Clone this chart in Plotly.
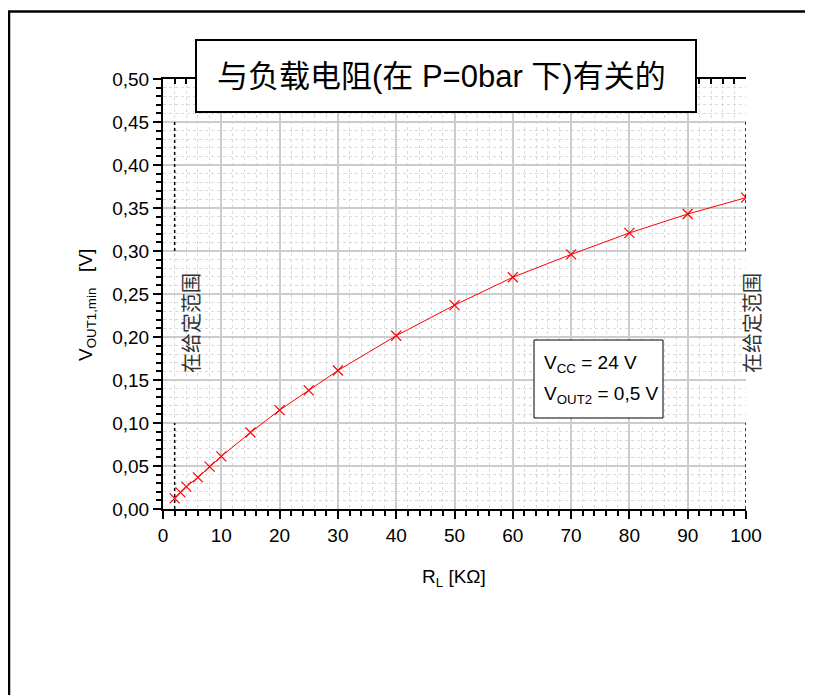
import plotly.graph_objects as go

# ---- data ----
rl_kohm = [2, 3, 4, 6, 8, 10, 15, 20, 25, 30, 40, 50, 60, 70, 80, 90, 100]
vout1_min = [0.0124, 0.0194, 0.026, 0.0368, 0.0492, 0.0612, 0.089, 0.115,
             0.138, 0.161, 0.2015, 0.237, 0.2695, 0.296, 0.321, 0.343, 0.362]
range_bounds = [2, 100]          # x positions of the "given range" markers
range_segments = [[0.0, 0.10], [0.30, 0.45]]
title_text = "与负载电阻(在 P=0bar 下)有关的"
range_text = "在给定范围"
info_lines = ["V<sub>CC</sub> = 24 V", "V<sub>OUT2</sub> = 0,5 V"]

# page offset (browser body margin)
OX, OY = 8, 8
W, H = 813 - 2 * OX, 695 - OY
PL, PR, PT, PB = 163, 746, 79, 509      # absolute plot-area edges in window
L, R, T, B = PL - OX, W - (PR - OX), PT - OY, H - (PB - OY)
PW, PH = PR - PL, PB - PT


def px(x):
    return (x - PL) / PW


def py(y):
    return (PB - y) / PH


LAT = "Liberation Sans, Arial, Noto Sans CJK SC"
CJK = "Noto Sans CJK SC, Liberation Sans"

fig = go.Figure()
fig.add_trace(go.Scatter(
    x=rl_kohm, y=vout1_min, mode="lines+markers",
    line=dict(color="#ff0000", width=1),
    marker=dict(symbol="x-thin", size=10, line=dict(color="#ff0000", width=1.2)),
    showlegend=False, hoverinfo="skip"))
# dummy trace to anchor top axis
fig.add_trace(go.Scatter(x=[None], y=[None], xaxis="x2", yaxis="y",
                         showlegend=False, hoverinfo="skip"))

shapes = []
for xb in range_bounds:
    for y0, y1 in range_segments:
        shapes.append(dict(type="line", xref="x", yref="y", x0=xb, x1=xb, y0=y0, y1=y1,
                           line=dict(color="black", width=1.5, dash="dot"), layer="above"))
# title box
shapes.append(dict(type="rect", xref="paper", yref="paper",
                   x0=px(196), x1=px(696), y0=py(112), y1=py(40),
                   fillcolor="white", line=dict(color="black", width=2), layer="above"))
# info box
shapes.append(dict(type="rect", xref="paper", yref="paper",
                   x0=px(534), x1=px(663), y0=py(418), y1=py(340),
                   fillcolor="white", line=dict(color="black", width=1), layer="above"))
# outer frame (top and left)
shapes.append(dict(type="line", xref="paper", yref="paper",
                   x0=px(8), x1=px(813), y0=py(11.5), y1=py(11.5),
                   line=dict(color="black", width=2.5)))
shapes.append(dict(type="line", xref="paper", yref="paper",
                   x0=px(9), x1=px(9), y0=py(11), y1=py(695),
                   line=dict(color="black", width=2.5)))

annotations = [
    dict(text=title_text, xref="paper", yref="paper", x=px(441), y=py(77),
         xanchor="center", yanchor="middle", showarrow=False,
         font=dict(family=LAT, size=31, color="black")),
    dict(text=range_text, xref="paper", yref="paper", x=px(190), y=py(323),
         xanchor="center", yanchor="middle", showarrow=False, textangle=-90,
         font=dict(family=CJK, size=20, color="#333")),
    dict(text=range_text, xref="paper", yref="paper", x=px(751), y=py(323),
         xanchor="center", yanchor="middle", showarrow=False, textangle=-90,
         font=dict(family=CJK, size=20, color="#333")),
    dict(text=info_lines[0], xref="paper", yref="paper", x=px(542), y=py(364),
         xanchor="left", yanchor="middle", showarrow=False,
         font=dict(family=LAT, size=19, color="black")),
    dict(text=info_lines[1], xref="paper", yref="paper", x=px(542), y=py(395),
         xanchor="left", yanchor="middle", showarrow=False,
         font=dict(family=LAT, size=19, color="black")),
    dict(text="V<sub>OUT1,min</sub>   [V]", xref="paper", yref="paper", x=px(87), y=py(305),
         xanchor="center", yanchor="middle", showarrow=False, textangle=-90,
         font=dict(family=LAT, size=19, color="black")),
    dict(text="R<sub>L</sub> [KΩ]", xref="paper", yref="paper", x=px(454), y=py(578),
         xanchor="center", yanchor="middle", showarrow=False,
         font=dict(family=LAT, size=19, color="black")),
]

fig.update_layout(
    width=W, height=H, autosize=False,
    margin=dict(l=L, r=R, t=T, b=B, pad=0),
    paper_bgcolor="white", plot_bgcolor="white",
    separators=",.",
    font=dict(family=LAT, size=19, color="black"),
    shapes=shapes, annotations=annotations,
    xaxis=dict(range=[0, 100], dtick=10, tick0=0, showline=True, linecolor="black",
               linewidth=2, ticks="outside", ticklen=8, tickwidth=2, tickcolor="black",
               zeroline=False, showgrid=True, gridcolor="#cccccc", gridwidth=1.5,
               tickfont=dict(family=LAT, size=19),
               minor=dict(dtick=2, tick0=0, ticks="outside", ticklen=5, tickwidth=1.5,
                          tickcolor="black", showgrid=True, gridcolor="#d9d9d9",
                          griddash="dot", gridwidth=1)),
    xaxis2=dict(range=[0, 100], overlaying="x", side="top", showline=True,
                linecolor="black", linewidth=2, ticks="inside", dtick=2, tick0=0,
                ticklen=5, tickwidth=1.5, tickcolor="black", showticklabels=False,
                showgrid=False, zeroline=False),
    yaxis=dict(range=[0, 0.5], dtick=0.05, tick0=0, tickformat=".2f", showline=True,
               linecolor="black", linewidth=2, ticks="outside", ticklen=8, tickwidth=2,
               tickcolor="black", zeroline=False, showgrid=True, gridcolor="#cccccc",
               gridwidth=1.5, tickfont=dict(family=LAT, size=19),
               minor=dict(dtick=0.01, tick0=0, ticks="outside", ticklen=5, tickwidth=1.5,
                          tickcolor="black", showgrid=True, gridcolor="#d9d9d9",
                          griddash="dot", gridwidth=1)),
)

fig.write_html("out.html")
